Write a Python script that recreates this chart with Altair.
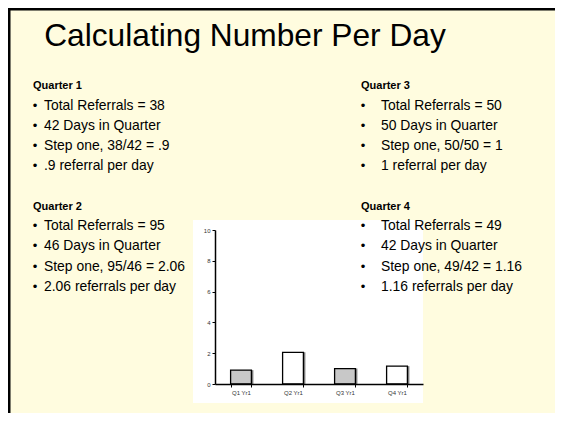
import altair as alt
import pandas as pd

# ---------------- data ----------------
title_text = "Calculating Number Per Day"
quarters = ["Q1 Yr1", "Q2 Yr1", "Q3 Yr1", "Q4 Yr1"]
per_day = [0.9, 2.06, 1.0, 1.16]
y_ticks = [0, 2, 4, 6, 8, 10]
headers = ["Quarter 1", "Quarter 2", "Quarter 3", "Quarter 4"]
q1_lines = ["Total Referrals = 38", "42 Days in Quarter", "Step one, 38/42 = .9", ".9 referral per day"]
q2_lines = ["Total Referrals = 95", "46 Days in Quarter", "Step one, 95/46 = 2.06", "2.06 referrals per day"]
q3_lines = ["Total Referrals = 50", "50 Days in Quarter", "Step one, 50/50 = 1", "1 referral per day"]
q4_lines = ["Total Referrals = 49", "42 Days in Quarter", "Step one, 49/42 = 1.16", "1.16 referrals per day"]

# ---------------- layout (page pixels) ----------------
FONT = "Liberation Sans"
MARGIN = 8
CANVAS_W, CANVAS_H = 547, 405
PLOT_X0, PLOT_Y0 = 215, 230
PLOT_W, PLOT_H = 208, 154
OX, OY = PLOT_X0 - MARGIN, PLOT_Y0 - MARGIN


def px(x):
    return x - PLOT_X0


def py(y):
    return y - PLOT_Y0


header_x = [33, 361]
bullet_x = [35, 363]
text_x = [44, 381]
header_y = [86, 207]
first_line_y = [105.5, 226]
line_step = 20.3

blocks = [
    (headers[0], q1_lines, 0, 0),
    (headers[1], q2_lines, 0, 1),
    (headers[2], q3_lines, 1, 0),
    (headers[3], q4_lines, 1, 1),
]

hdr_rows, body_rows, bullet_rows = [], [], []
for head, lines, col, row in blocks:
    hdr_rows.append({"text": head, "x": px(header_x[col]), "y": py(header_y[row])})
    for i, t in enumerate(lines):
        yy = py(first_line_y[row] + i * line_step)
        body_rows.append({"text": t, "x": px(text_x[col]), "y": yy})
        bullet_rows.append({"text": "•", "x": px(bullet_x[col]), "y": yy})

hdr_df = pd.DataFrame(hdr_rows)
body_df = pd.DataFrame(body_rows)
bullet_df = pd.DataFrame(bullet_rows)
one = pd.DataFrame({"k": [0]})


def text_layer(df, **mk):
    return alt.Chart(df).mark_text(baseline="middle", font=FONT, color="black", **mk).encode(
        x=alt.X("x:Q", scale=None, axis=None),
        y=alt.Y("y:Q", scale=None, axis=None),
        text="text:N",
    )


headers_layer = text_layer(hdr_df, align="left", fontSize=11, fontWeight="bold")
body_layer = text_layer(body_df, align="left", fontSize=13.9)
bullet_layer = text_layer(bullet_df, align="center", fontSize=13)

title_layer = alt.Chart(one).mark_text(
    font=FONT, fontSize=31.7, align="center", baseline="alphabetic", color="black"
).encode(x=alt.value(px(245)), y=alt.value(py(46)), text=alt.value(title_text))

panel = alt.Chart(one).mark_rect(fill="white").encode(
    x=alt.value(px(193)), x2=alt.value(px(423)), y=alt.value(py(220)), y2=alt.value(py(403))
)

border_top = alt.Chart(one).mark_rule(color="black", strokeWidth=2.5).encode(
    x=alt.value(-OX), x2=alt.value(CANVAS_W - OX), y=alt.value(-OY + 1.25)
)
border_left = alt.Chart(one).mark_rule(color="black", strokeWidth=2.5).encode(
    x=alt.value(-OX + 1.25), y=alt.value(-OY), y2=alt.value(CANVAS_H - OY)
)

# ---------------- bar chart ----------------
bars_df = pd.DataFrame({"quarter": quarters, "value": per_day})
bar_fills = ["#c8c8c8", "#ffffff", "#c8c8c8", "#ffffff"]

axis_style = dict(
    zindex=1,
    domainColor="black",
    domainWidth=1.5,
    tickColor="black",
    tickWidth=1,
    tickSize=3,
    labelFont=FONT,
    labelFontSize=6,
    labelColor="#333333",
    labelPadding=2,
    title=None,
)

xenc = alt.X(
    "quarter:N",
    sort=quarters,
    scale=alt.Scale(paddingInner=0.6, paddingOuter=0.3),
    axis=alt.Axis(orient="bottom", labelAngle=0, tickBand="extent", **axis_style),
)
yenc = alt.Y(
    "value:Q",
    scale=alt.Scale(domain=[0, 10], nice=False),
    axis=alt.Axis(orient="left", values=y_ticks, grid=False, **axis_style),
)

shadow = alt.Chart(bars_df).mark_bar(color="#808080", xOffset=2).encode(x=xenc, y=yenc)
main_bars = alt.Chart(bars_df).mark_bar(stroke="black", strokeWidth=1.3).encode(
    x=xenc,
    y=yenc,
    color=alt.Color("quarter:N", scale=alt.Scale(domain=quarters, range=bar_fills), legend=None),
)
bar_chart = alt.layer(shadow, main_bars)

chart = (
    alt.layer(
        panel, border_top, border_left, title_layer,
        headers_layer, bullet_layer, body_layer, bar_chart,
    )
    .resolve_scale(x="independent", y="independent")
    .properties(
        width=PLOT_W,
        height=PLOT_H,
        padding={"left": OX, "top": OY, "right": CANVAS_W - OX - PLOT_W, "bottom": CANVAS_H - OY - PLOT_H},
        autosize=alt.AutoSizeParams(type="none"),
        background="#FFFCDF",
    )
    .configure_view(strokeWidth=0)
)

chart.save("out.html", embed_options={"renderer": "svg", "actions": False})
